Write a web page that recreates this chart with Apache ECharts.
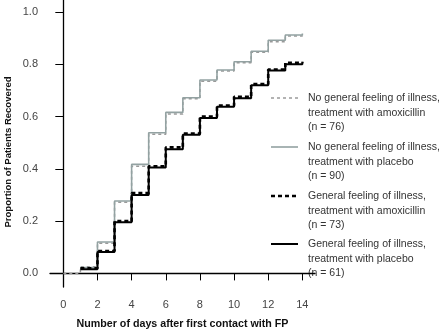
<!DOCTYPE html>
<html>
<head>
<meta charset="utf-8">
<script src="https://cdn.jsdelivr.net/npm/echarts@6/dist/echarts.min.js"></script>
<style>
  html, body { margin: 0; padding: 0; background: #fff; }
  #chart { width: 440px; height: 332px; }
</style>
</head>
<body>
<div id="chart"></div>
<script>
// days since first contact
const days = [0, 1, 2, 3, 4, 5, 6, 7, 8, 9, 10, 11, 12, 13, 14];

// proportion recovered per group (step curves)
const noIllAmox    = [0, 0.025, 0.115, 0.272, 0.410, 0.532, 0.610, 0.668, 0.735, 0.774, 0.806, 0.846, 0.886, 0.908, 0.915];
const noIllPlacebo = [null, 0.022, 0.120, 0.277, 0.417, 0.538, 0.616, 0.672, 0.740, 0.778, 0.810, 0.850, 0.892, 0.912, 0.918];
const illAmox      = [null, 0.020, 0.086, 0.200, 0.307, 0.410, 0.482, 0.535, 0.600, 0.642, 0.676, 0.724, 0.780, 0.806, 0.810];
const illPlacebo   = [null, 0.016, 0.082, 0.196, 0.300, 0.405, 0.475, 0.530, 0.595, 0.638, 0.670, 0.720, 0.776, 0.800, 0.806];

const xTicks = [0, 2, 4, 6, 8, 10, 12, 14];
const yTicks = [0, 0.2, 0.4, 0.6, 0.8, 1.0];

const groupNames = [
    'No general feeling of illness,\ntreatment with amoxicillin\n(n = 76)',
    'No general feeling of illness,\ntreatment with placebo\n(n = 90)',
    'General feeling of illness,\ntreatment with amoxicillin\n(n = 73)',
    'General feeling of illness,\ntreatment with placebo\n(n = 61)'
];

var chart = echarts.init(document.getElementById('chart'));

function pairs(vals) {
    return days.map(function (d, i) { return [d, vals[i]]; });
}

// line styles per group
var styles = [
    { color: '#9a9a9a', width: 1.5, type: [3, 3] },
    { color: '#93a2a2', width: 1.6, type: 'solid' },
    { color: '#000000', width: 2.6, type: [4, 3] },
    { color: '#000000', width: 2, type: 'solid' }
];
var values = [noIllAmox, noIllPlacebo, illAmox, illPlacebo];
var drawOrder = [1, 0, 3, 2];

var series = drawOrder.map(function (i) {
    return {
        name: groupNames[i],
        type: 'line',
        step: 'end',
        symbol: 'none',
        data: pairs(values[i]),
        lineStyle: { color: styles[i].color, width: styles[i].width, type: styles[i].type },
        itemStyle: { color: styles[i].color },
        z: 2 + i
    };
});

// legend drawn as graphics (line sample + three-line label)
var legendTop = [98, 147, 196, 244];
var graphics = [];
legendTop.forEach(function (y, i) {
    graphics.push({
        type: 'line',
        shape: { x1: 271, y1: y, x2: 298, y2: y },
        style: { stroke: styles[i].color, lineWidth: styles[i].width, lineDash: styles[i].type === 'solid' ? null : styles[i].type }
    });
    graphics.push({
        type: 'text',
        x: 308,
        y: y - 7,
        style: {
            text: groupNames[i],
            font: '10.5px "Liberation Sans"',
            fill: '#333',
            lineHeight: 14.5,
            verticalAlign: 'top'
        }
    });
});
graphics.push({
    type: 'text',
    x: 8,
    y: 152,
    rotation: Math.PI / 2,
    style: {
        text: 'Proportion of Patients Recovered',
        font: 'bold 9.5px "Liberation Sans"',
        fill: '#111',
        align: 'center',
        verticalAlign: 'middle'
    }
});

var option = {
    animation: false,
    grid: { left: 50, top: 0, right: 125, bottom: 45, containLabel: false, outerBoundsMode: 'none' },
    xAxis: {
        type: 'value',
        min: -0.78,
        max: 14.74,
        name: 'Number of days after first contact with FP',
        nameLocation: 'middle',
        nameGap: 32,
        nameTextStyle: { fontFamily: 'Liberation Sans', fontWeight: 'bold', fontSize: 10.7, color: '#111' },
        splitLine: { show: false },
        axisLine: { lineStyle: { color: '#000', width: 1.3 } },
        axisTick: { customValues: xTicks, length: 7, lineStyle: { color: '#000', width: 1 } },
        axisLabel: { customValues: xTicks, margin: 12, fontFamily: 'Liberation Sans', fontSize: 11, color: '#444' }
    },
    yAxis: {
        type: 'value',
        min: -0.052,
        max: 1.046,
        splitLine: { show: false },
        axisLine: { show: true, lineStyle: { color: '#000', width: 1.3 } },
        axisTick: { show: true, customValues: yTicks, length: 8, lineStyle: { color: '#000', width: 1 } },
        axisLabel: {
            customValues: yTicks, margin: 12, fontFamily: 'Liberation Sans', fontSize: 11, color: '#444',
            formatter: function (v) { return v.toFixed(1); }
        }
    },
    graphic: graphics,
    series: series
};

chart.setOption(option);
</script>
</body>
</html>
